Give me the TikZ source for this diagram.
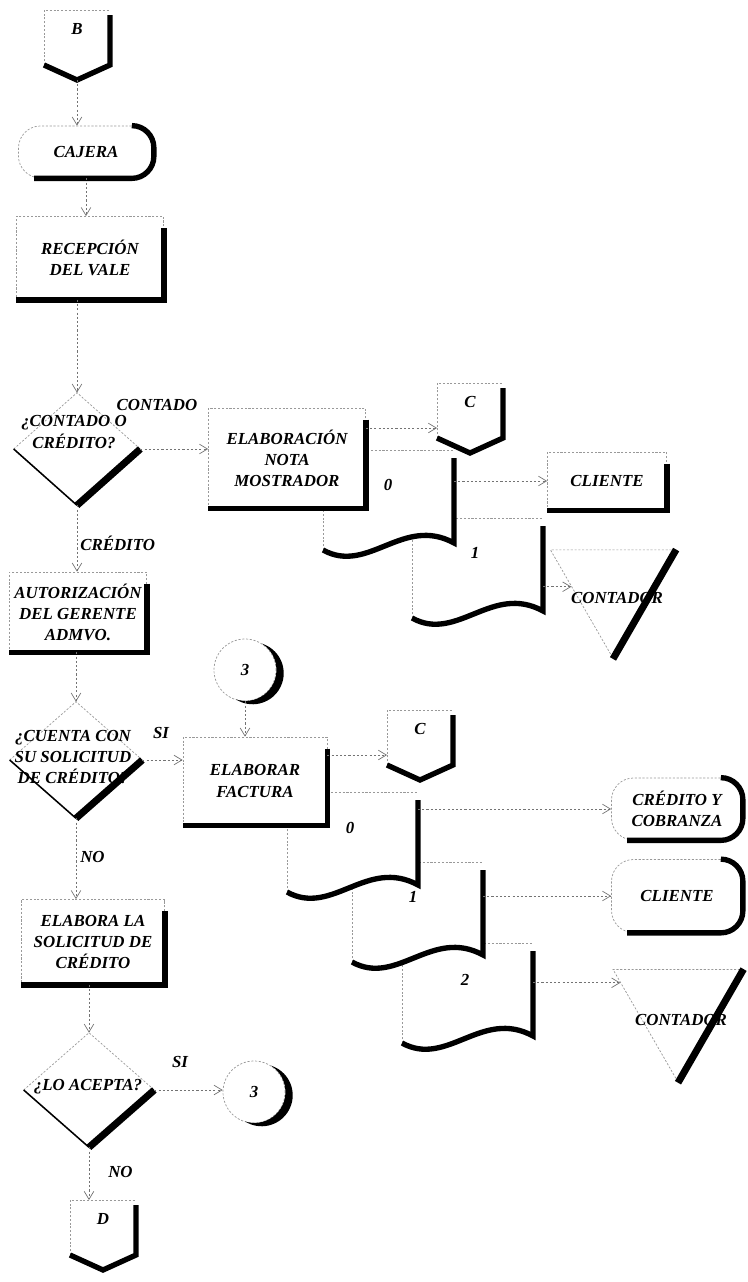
\documentclass[tikz,border=0pt]{standalone}
\usepackage{fontspec}
\setmainfont{Liberation Serif}
\usetikzlibrary{arrows.meta,calc,shapes.geometric}

\begin{document}
\begin{tikzpicture}[x=0.025cm,y=-0.025cm,
  txt/.style={font=\fontsize{12}{15}\selectfont\bfseries\itshape,align=center,inner sep=0pt},
  lbl/.style={txt},
  faint/.style={draw=black!40,line width=0.5pt,dash pattern=on 1.5pt off 1.2pt},
  dark/.style={draw=black,line width=1.1pt},
  heavy/.style={draw=black,line width=3.8pt},
  proc/.style={txt,rectangle,faint,fill=white},
  term/.style={txt,rectangle,rounded corners=0.55cm,faint,fill=white},
  dec/.style={diamond,inner sep=0pt,fill=white},
  conn/.style={txt,circle,minimum size=1.55cm,faint,fill=white},
  tri/.style={regular polygon,regular polygon sides=3,shape border rotate=180,inner sep=0pt,faint},
  flow/.style={draw=black!55,line width=0.5pt,dash pattern=on 1.5pt off 1.5pt,-{Straight Barb[length=2mm,width=2.4mm]}},
  doc/.pic={
    \fill[white] (0,0) -- (131,0) -- (131,93) .. controls (80,65) and (45,125) .. (0,100) -- cycle;
    \draw[faint] (0,100) -- (0,0) -- (131,0);
    \draw[heavy] (131,8) -- (131,93) .. controls (80,65) and (45,125) .. (0,100);
    \coordinate (-e) at (131,0);
  },
  offpage/.pic={
    \fill[white] (0,0) -- (66,0) -- (66,55) -- (33,70) -- (0,55) -- cycle;
    \draw[faint] (0,55) -- (0,0) -- (66,0);
    \draw[heavy] (66,5) -- (66,55) -- (33,70) -- (0,55);
    \node[txt] (-t) at (33,19) {\tikzpictext};
    \coordinate (-in) at (0,45);
    \coordinate (-top) at (33,0);
    \coordinate (-tip) at (33,70);
  }
]
  \useasboundingbox (0,0) rectangle (748,1282);

  % left column
  \pic[pic text=B] (B) at (44,10) {offpage};
  \node[term,minimum width=3.375cm,minimum height=1.3cm] (caj) at (86,152) {CAJERA};
  \draw[heavy,rounded corners=0.55cm] ([xshift=-0.55cm]caj.north east) -- (caj.north east) -- (caj.south east) -- ([xshift=0.4cm]caj.south west);

  \node[proc,minimum width=3.675cm,minimum height=2.075cm] (rec) at (90,258) {RECEPCIÓN\\DEL VALE};
  \draw[heavy] ([yshift=-0.3cm]rec.north east) -- (rec.south east) -- (rec.south west);

  \node[dec,minimum width=3.15cm,minimum height=2.8cm] (q1) at (77,449) {};
  \draw[faint] (q1.west) -- (q1.north) -- (q1.east);
  \draw[dark] (q1.west) -- (q1.south);
  \node[txt] (q1t) at (74,432) {¿CONTADO O\\CRÉDITO?};
  \draw[heavy,line width=5pt] (q1.east) -- (q1.south);

  \node[proc,minimum width=3.425cm,minimum height=2cm] (aut) at (78,612) {AUTORIZACIÓN\\DEL GERENTE\\ADMVO.};
  \draw[heavy] ([yshift=-0.3cm]aut.north east) -- (aut.south east) -- (aut.south west);

  \node[dec,minimum width=3.3cm,minimum height=2.9cm] (q2) at (76,760) {};
  \draw[faint] (q2.west) -- (q2.north) -- (q2.east);
  \draw[dark] (q2.west) -- (q2.south);
  \node[txt] (q2t) at (73,757) {¿CUENTA CON\\SU SOLICITUD\\DE CRÉDITO?};
  \draw[heavy,line width=5pt] (q2.east) -- (q2.south);

  \node[proc,minimum width=3.575cm,minimum height=2.125cm] (sol) at (93,942) {ELABORA LA\\SOLICITUD DE\\CRÉDITO};
  \draw[heavy] ([yshift=-0.3cm]sol.north east) -- (sol.south east) -- (sol.south west);

  \node[dec,minimum width=3.25cm,minimum height=2.85cm] (q3) at (89,1090) {};
  \draw[faint] (q3.west) -- (q3.north) -- (q3.east);
  \draw[dark] (q3.west) -- (q3.south);
  \node[txt] (q3t) at (88,1087) {¿LO ACEPTA?};
  \draw[heavy,line width=5pt] (q3.east) -- (q3.south);

  \pic[pic text=D] (D) at (70,1200) {offpage};

  % cash branch
  \pic (d11) at (412,518) {doc};
  \pic (d10) at (323,450) {doc};
  \node[lbl] (n10) at (388,485) {0};
  \node[lbl] (n11) at (475,553) {1};
  \node[proc,minimum width=3.925cm,minimum height=2.5cm] (nota) at (287,458) {ELABORACIÓN\\NOTA\\MOSTRADOR};
  \draw[heavy] ([yshift=-0.3cm]nota.north east) -- (nota.south east) -- (nota.south west);
  \pic[pic text=C] (C1) at (437,383) {offpage};
  \node[proc,minimum width=2.975cm,minimum height=1.45cm] (cli1) at (607,481) {CLIENTE};
  \draw[heavy] ([yshift=-0.3cm]cli1.north east) -- (cli1.south east) -- (cli1.south west);
  \node[tri,minimum size=3.61cm] (t1) at (613,586) {};
  \node[txt] (t1t) at (617,598) {CONTADOR};
  \draw[heavy,line width=5pt] (t1.corner 2) -- (t1.corner 1);

  % credit branch
  \pic (d22) at (402,943) {doc};
  \pic (d21) at (352,862) {doc};
  \pic (d20) at (287,792) {doc};
  \node[lbl] (n20) at (350,828) {0};
  \node[lbl] (n21) at (413,897) {1};
  \node[lbl] (n22) at (465,980) {2};
  \node[conn] (k3a) at (245,670) {3};
  \fill (k3a.57.6) arc[start angle=72.4,end angle=-122.4,radius=0.775cm] arc[start angle=-107.6,end angle=57.6,radius=0.775cm] -- cycle;
  \node[proc,minimum width=3.6cm,minimum height=2.2cm] (fact) at (255,781) {ELABORAR\\FACTURA};
  \draw[heavy] ([yshift=-0.3cm]fact.north east) -- (fact.south east) -- (fact.south west);
  \pic[pic text=C] (C2) at (387,710) {offpage};
  \node[term,minimum width=3.275cm,minimum height=1.55cm] (cyc) at (677,809) {CRÉDITO Y\\COBRANZA};
  \draw[heavy,rounded corners=0.55cm] ([xshift=-0.55cm]cyc.north east) -- (cyc.north east) -- (cyc.south east) -- ([xshift=0.4cm]cyc.south west);
  \node[term,minimum width=3.275cm,minimum height=1.825cm] (cli2) at (677,896) {CLIENTE};
  \draw[heavy,rounded corners=0.55cm] ([xshift=-0.55cm]cli2.north east) -- (cli2.north east) -- (cli2.south east) -- ([xshift=0.4cm]cli2.south west);
  \node[tri,minimum size=3.75cm] (t2) at (678,1007) {};
  \node[txt] (t2t) at (681,1020) {CONTADOR};
  \draw[heavy,line width=5pt] (t2.corner 2) -- (t2.corner 1);
  \node[conn] (k3b) at (254,1092) {3};
  \fill (k3b.57.6) arc[start angle=72.4,end angle=-122.4,radius=0.775cm] arc[start angle=-107.6,end angle=57.6,radius=0.775cm] -- cycle;

  % labels
  \node[lbl] (lcont) at (157,405) {CONTADO};
  \node[lbl,anchor=west] (lcred) at (80,543) {CRÉDITO};
  \node[lbl] (lsi1) at (161,733) {SI};
  \node[lbl,anchor=west] (lno1) at (80,857) {NO};
  \node[lbl] (lsi2) at (180,1062) {SI};
  \node[lbl,anchor=west] (lno2) at (108,1172) {NO};

  % connectors
  \draw[flow] (B-tip) -- (B-tip |- caj.north);
  \draw[flow] (caj.south) -- (caj.south |- rec.north);
  \draw[flow] (q1.north |- rec.south) -- (q1.north);
  \draw[flow] (q1.east) -- (q1.east -| nota.west);
  \draw[flow] (q1.south) -- (q1.south |- aut.north);
  \draw[flow] (q2.north |- aut.south) -- (q2.north);
  \draw[flow] (q2.east) -- (q2.east -| fact.west);
  \draw[flow] (q2.south) -- (q2.south |- sol.north);
  \draw[flow] (q3.north |- sol.south) -- (q3.north);
  \draw[flow] (q3.east) -- (q3.east -| k3b.west);
  \draw[flow] (q3.south) -- (q3.south |- D-top);
  \draw[flow] (k3a.south) -- (k3a.south |- fact.north);
  \draw[flow] (nota.east |- C1-in) -- (C1-in);
  \draw[flow] (fact.east |- C2-in) -- (C2-in);
  \draw[flow] (cli1.west -| d10-e) -- (cli1.west);
  \coordinate (t1in) at ($(t1.corner 3)!.34!(t1.corner 1)$);
  \draw[flow] (t1in -| d11-e) -- (t1in);
  \draw[flow] (cyc.west -| d20-e) -- (cyc.west);
  \draw[flow] (cli2.west -| d21-e) -- (cli2.west);
  \coordinate (t2in) at ($(t2.corner 3)!.12!(t2.corner 1)$);
  \draw[flow] (t2in -| d22-e) -- (t2in);
\end{tikzpicture}
\end{document}
